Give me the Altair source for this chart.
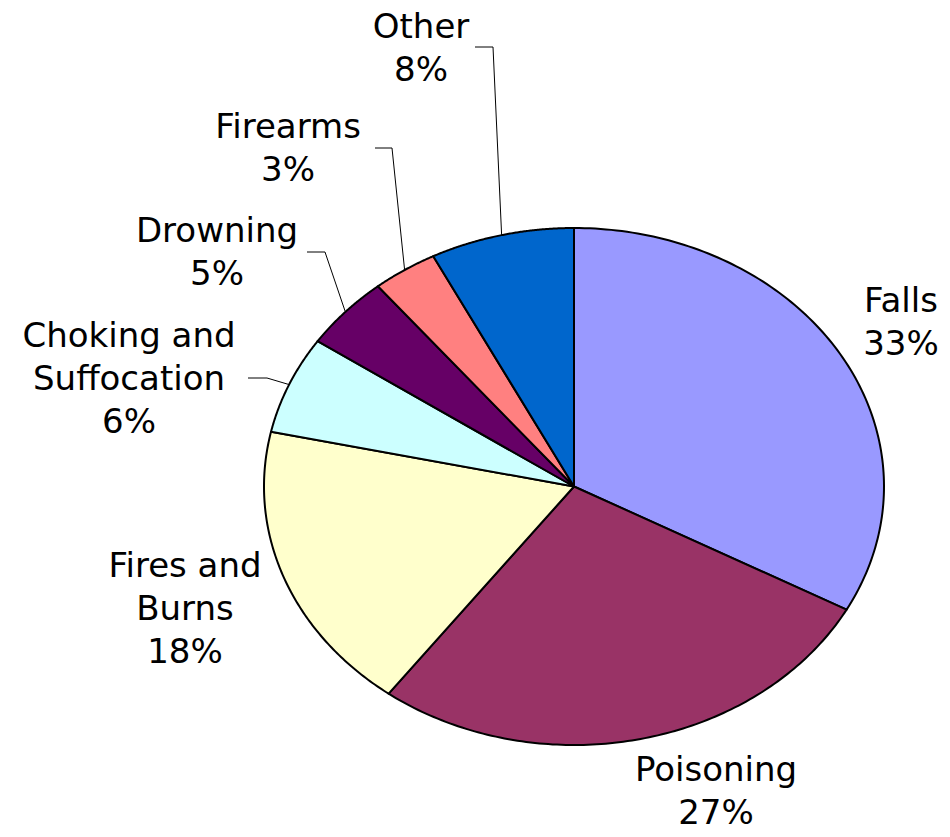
import math
import altair as alt
import pandas as pd

# ---------------- data ----------------
categories = ["Falls", "Poisoning", "Fires and Burns", "Choking and Suffocation",
              "Drowning", "Firearms", "Other"]
values = [32.9, 27.3, 18.2, 6.1, 4.6, 3.4, 7.5]
display_names = ["Falls", "Poisoning", "Fires and\nBurns", "Choking and\nSuffocation",
                 "Drowning", "Firearms", "Other"]
colors = ["#9999FF", "#993366", "#FFFFCC", "#CCFFFF", "#660066", "#FF8080", "#0066CC"]

# ---------------- layout (page pixels) ----------------
W, H = 934, 821
CX, CY, RX, RY = 574.0, 486.5, 310.0, 258.5  # ellipse centre and radii


def to_x(px):
    return (px - CX) / RX


def to_y(py):
    return (CY - py) / RY


x_domain = [to_x(8), to_x(8 + W)]
y_domain = [to_y(8 + H), to_y(8)]

# label anchor: centre x, first-line baseline y
label_pos = {
    "Falls": (901, 312),
    "Poisoning": (716, 781),
    "Fires and Burns": (185, 577),
    "Choking and Suffocation": (129, 347),
    "Drowning": (217, 242),
    "Firearms": (288, 138),
    "Other": (421, 38),
}
# leader line start / elbow for the small slices
leader_pos = {
    "Choking and Suffocation": ((248, 378), (267, 378)),
    "Drowning": ((307, 252), (325, 252)),
    "Firearms": ((375, 148), (392, 148)),
    "Other": ((475, 47), (493, 47)),
}

df = pd.DataFrame({"category": categories, "value": values,
                   "order": list(range(len(categories)))})

total = sum(values)
pct = [f"{int(v / total * 100 + 0.5)}%" for v in values]
lab = pd.DataFrame({
    "category": categories,
    "text": [n + "\n" + p for n, p in zip(display_names, pct)],
    "lx": [to_x(label_pos[c][0]) for c in categories],
    "ly": [to_y(label_pos[c][1]) for c in categories],
})

rows = []
cum = 0.0
for c, v in zip(categories, values):
    mid = 2 * math.pi * (cum + v / 2) / total
    cum += v
    if c in leader_pos:
        (sx, sy), (ex, ey) = leader_pos[c]
        rows.append({"category": c, "idx": 0, "x": to_x(sx), "y": to_y(sy)})
        rows.append({"category": c, "idx": 1, "x": to_x(ex), "y": to_y(ey)})
        rows.append({"category": c, "idx": 2, "x": math.sin(mid), "y": math.cos(mid)})
leaders_df = pd.DataFrame(rows)

xs = alt.Scale(domain=x_domain, nice=False, zero=False)
ys = alt.Scale(domain=y_domain, nice=False, zero=False)

N = 120
pie = alt.Chart(df).transform_joinaggregate(
    total="sum(value)"
).transform_window(
    cum="sum(value)", sort=[alt.SortField("order")], frame=[None, 0]
).transform_calculate(
    a0="2*PI*(datum.cum - datum.value)/datum.total",
    a1="2*PI*datum.cum/datum.total",
    k=f"sequence(0, {N + 3})",
).transform_flatten(["k"]).transform_calculate(
    ang=f"datum.a0 + (datum.a1 - datum.a0)*clamp((datum.k - 1)/{N}, 0, 1)",
    edge=f"(datum.k >= 1 && datum.k <= {N + 1}) ? 1 : 0",
).transform_calculate(
    px="datum.edge * sin(datum.ang)",
    py="datum.edge * cos(datum.ang)",
).mark_line(
    filled=True, stroke="black", strokeWidth=2, strokeJoin="round", opacity=1
).encode(
    x=alt.X("px:Q", scale=xs, axis=None),
    y=alt.Y("py:Q", scale=ys, axis=None),
    color=alt.Color("category:N", scale=alt.Scale(domain=categories, range=colors),
                    legend=None),
    order=alt.Order("k:Q"),
)

leaders = alt.Chart(leaders_df).mark_line(color="black", strokeWidth=1).encode(
    x=alt.X("x:Q", scale=xs, axis=None),
    y=alt.Y("y:Q", scale=ys, axis=None),
    detail="category:N",
    order=alt.Order("idx:Q"),
)

labels = alt.Chart(lab).mark_text(
    font="DejaVu Sans", fontSize=34, lineHeight=43, align="center",
    baseline="alphabetic", lineBreak="\n", color="black"
).encode(
    x=alt.X("lx:Q", scale=xs, axis=None),
    y=alt.Y("ly:Q", scale=ys, axis=None),
    text="text:N",
)

chart = alt.layer(pie, leaders, labels).properties(
    width=W, height=H, padding=0,
    autosize=alt.AutoSizeParams(type="none"),
).configure_view(stroke=None)

chart.save("out.html", embed_options={"renderer": "svg", "actions": False})
